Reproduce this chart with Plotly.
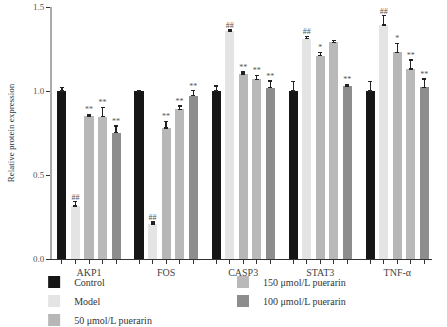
import plotly.graph_objects as go

genes = ["AKP1", "FOS", "CASP3", "STAT3", "TNF-α"]
series_names = ["Control", "Model", "50 μmol/L puerarin", "150 μmol/L puerarin", "100 μmol/L puerarin"]

control = [1.00, 1.00, 1.00, 1.00, 1.00]
model = [0.315, 0.208, 1.357, 1.311, 1.393]
p50 = [0.851, 0.780, 1.101, 1.210, 1.230]
p150 = [0.847, 0.891, 1.070, 1.290, 1.131]
p100 = [0.752, 0.972, 1.020, 1.030, 1.022]

control_err = [0.02, 0.005, 0.03, 0.055, 0.055]
model_err = [0.025, 0.012, 0.006, 0.015, 0.055]
p50_err = [0.01, 0.04, 0.012, 0.02, 0.055]
p150_err = [0.055, 0.02, 0.023, 0.01, 0.054]
p100_err = [0.04, 0.03, 0.04, 0.01, 0.05]

control_sig = ["", "", "", "", ""]
model_sig = ["##", "##", "##", "##", "##"]
p50_sig = ["**", "**", "**", "*", "*"]
p150_sig = ["**", "**", "**", "", "**"]
p100_sig = ["**", "**", "**", "**", "**"]

values = [control, model, p50, p150, p100]
errors = [control_err, model_err, p50_err, p150_err, p100_err]
sigs = [control_sig, model_sig, p50_sig, p150_sig, p100_sig]
colors = ["#161616", "#e4e4e4", "#b7b7b7", "#b9b9b9", "#8d8d8d"]

step = 0.1755
bar_w = 0.118
serif = "Liberation Serif"

fig = go.Figure()
all_ticks = []
all_text = []
for k in range(5):
    xs = [g + (k - 2) * step for g in range(len(genes))]
    fig.add_trace(go.Bar(
        x=xs, y=values[k], width=bar_w, name=series_names[k],
        marker=dict(color=colors[k], line=dict(width=0)),
        error_y=dict(type="data", symmetric=False, array=errors[k],
                     arrayminus=[0] * 5, color="#222222", thickness=1.2, width=2),
        legend="legend" if k < 3 else "legend2",
    ))
    fig.add_trace(go.Scatter(
        x=xs, y=[v + e for v, e in zip(values[k], errors[k])],
        mode="text", text=sigs[k], textposition="top center",
        textfont=dict(family=serif, size=8, color="#555555"),
        showlegend=False, hoverinfo="skip", cliponaxis=False,
    ))

for g in range(len(genes)):
    for k in range(5):
        all_ticks.append(g + (k - 2) * step)
        all_text.append(genes[g] if k == 2 else "")

fig.update_layout(
    width=447, height=327,
    margin=dict(l=52, r=15, t=7, b=68, autoexpand=False),
    plot_bgcolor="white", paper_bgcolor="white",
    font=dict(family=serif, size=9, color="#333333"),
    bargap=0,
    legend=dict(x=-0.047, y=-0.034, xanchor="left", yanchor="top",
                font=dict(family=serif, size=10, color="#333333"),
                tracegroupgap=0, itemwidth=30, bgcolor="rgba(0,0,0,0)"),
    legend2=dict(x=0.45, y=-0.034, xanchor="left", yanchor="top",
                 font=dict(family=serif, size=10, color="#333333"),
                 tracegroupgap=0, itemwidth=30, bgcolor="rgba(0,0,0,0)"),
)
fig.update_xaxes(
    range=[-0.48, 4.45], tickvals=all_ticks, ticktext=all_text,
    ticks="outside", ticklen=4, tickcolor="#333333", tickwidth=1,
    showline=True, linecolor="#333333", linewidth=1.2,
    showgrid=False, zeroline=False,
    tickfont=dict(family=serif, size=10, color="#444444"),
)
fig.update_yaxes(
    range=[0, 1.5], tickvals=[0, 0.5, 1.0, 1.5], tickformat=".1f",
    ticks="outside", ticklen=4, tickcolor="#333333", tickwidth=1,
    showline=True, linecolor="#aaaaaa", linewidth=2,
    showgrid=False, zeroline=False,
    title=dict(text="Relative protein expression", standoff=17,
               font=dict(family=serif, size=9, color="#333333")),
    tickfont=dict(family=serif, size=9, color="#555555"),
)

fig.write_html("out.html")
